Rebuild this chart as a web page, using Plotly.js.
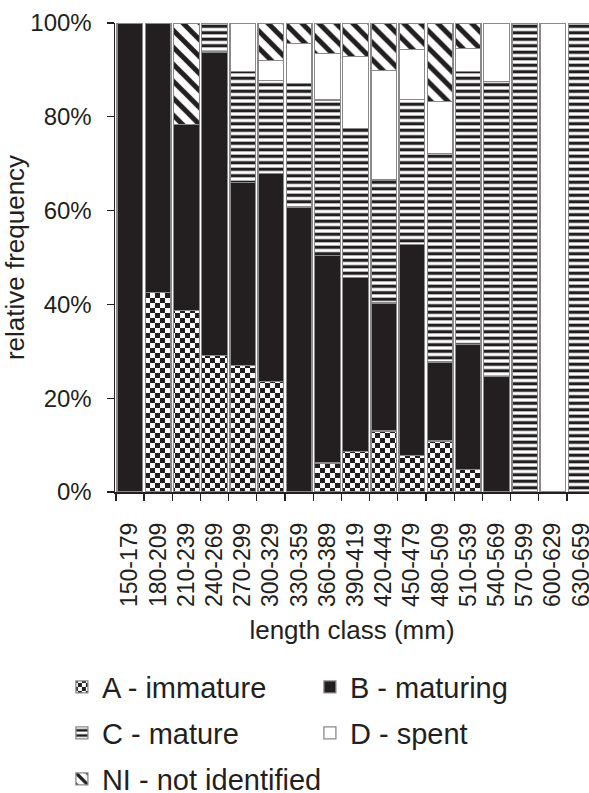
<!DOCTYPE html>
<html>
<head>
<meta charset="utf-8">
<script src="https://cdn.plot.ly/plotly-3.0.1.min.js"></script>
<style>
html,body{margin:0;padding:0;background:#fff;overflow:hidden;}
#chart{width:589px;height:793px;}
</style>
</head>
<body>
<div id="chart"></div>
<script>
var categories = ['150-179','180-209','210-239','240-269','270-299','300-329','330-359','360-389','390-419','420-449','450-479','480-509','510-539','540-569','570-599','600-629','630-659'];
var immature   = [0, 42.6, 38.7, 29.1, 27.0, 23.5, 0, 6.2, 8.7, 13.0, 7.8, 10.9, 4.8, 0, 0, 0, 0];
var maturing   = [100, 57.4, 39.7, 64.7, 39.0, 44.4, 60.8, 44.3, 37.1, 27.3, 45.0, 16.8, 26.7, 24.7, 0, 0, 0];
var mature     = [0, 0, 0, 6.2, 23.6, 19.9, 26.3, 33.1, 31.7, 26.2, 30.9, 44.5, 58.1, 62.9, 100, 0, 100];
var spent      = [0, 0, 0, 0, 10.4, 4.2, 8.5, 9.9, 15.4, 23.3, 10.6, 11.0, 5.0, 12.4, 0, 100, 0];
var notIdent   = [0, 0, 21.6, 0, 0, 8.0, 4.4, 6.5, 7.1, 10.2, 5.7, 16.8, 5.4, 0, 0, 0, 0];
var seriesNames = ['A - immature', 'B - maturing', 'C - mature', 'D - spent', 'NI - not identified'];
var yTicks = [0, 20, 40, 60, 80, 100];
var yTickText = ['0%', '20%', '40%', '60%', '80%', '100%'];

var INK = '#231f20';
var EDGE = '#8a8a8a';
var FONT = 'Liberation Sans, Arial, sans-serif';

function bar(name, vals, marker, legend) {
  marker.line = {color: EDGE, width: 1.3};
  return {type: 'bar', name: name, x: categories, y: vals, marker: marker, legend: legend, hoverinfo: 'skip'};
}

var data = [
  bar(seriesNames[0], immature, {color: INK, pattern: {shape: '.', size: 10, solidity: 0.3, fgcolor: INK, bgcolor: '#ffffff', fillmode: 'replace'}}, 'legend'),
  bar(seriesNames[1], maturing, {color: INK}, 'legend'),
  bar(seriesNames[2], mature, {color: INK, pattern: {shape: '-', size: 6.5, solidity: 0.5, fgcolor: INK, bgcolor: '#ffffff', fillmode: 'replace'}}, 'legend2'),
  bar(seriesNames[3], spent, {color: '#ffffff'}, 'legend2'),
  bar(seriesNames[4], notIdent, {color: INK, pattern: {shape: '\\', size: 12, solidity: 0.42, fgcolor: INK, bgcolor: '#ffffff', fillmode: 'replace'}}, 'legend3')
];

function leg(y, ew) {
  var o = {orientation: 'h', x: -0.112, xanchor: 'left', y: y, yanchor: 'middle',
          font: {family: FONT, size: 29, color: INK}, bgcolor: 'rgba(0,0,0,0)', borderwidth: 0, traceorder: 'normal'};
  if (ew) { o.entrywidth = ew; o.entrywidthmode = 'pixels'; }
  return o;
}

var layout = {
  width: 589, height: 793,
  margin: {l: 115, r: 0, t: 23, b: 301, autoexpand: false},
  paper_bgcolor: '#ffffff', plot_bgcolor: '#ffffff',
  barmode: 'stack', bargap: 0.09,
  font: {family: FONT, color: INK},
  showlegend: true,
  xaxis: {
    type: 'category', range: [-0.53, 16.28],
    showline: true, linecolor: INK, linewidth: 1.5,
    ticks: 'outside', ticklen: 7, tickwidth: 1.3, tickcolor: INK, tickson: 'boundaries',
    tickangle: -90, tickfont: {family: FONT, size: 23, color: INK}, ticklabelstandoff: 20,
    showgrid: false, zeroline: false,
    title: {text: 'length class (mm)', font: {family: FONT, size: 26, color: INK}, standoff: 14}
  },
  yaxis: {
    range: [0, 100], tickvals: yTicks, ticktext: yTickText,
    showline: true, linecolor: INK, linewidth: 1.5,
    ticks: 'outside', ticklen: 7, tickwidth: 1.3, tickcolor: INK,
    tickfont: {family: FONT, size: 24, color: INK}, ticklabelstandoff: 10,
    showgrid: false, zeroline: false,
    title: {text: 'relative frequency', font: {family: FONT, size: 26, color: INK}, standoff: 0}
  },
  legend: leg(-0.416, 203),
  legend2: leg(-0.514, 203),
  legend3: leg(-0.612, 0)
};

var gd = document.getElementById('chart');
Plotly.newPlot(gd, data, layout, {staticPlot: true, displayModeBar: false}).then(function () {
  var NS = 'http://www.w3.org/2000/svg';
  gd.querySelectorAll('pattern').forEach(function (p) {
    var c = p.querySelector('circle');
    if (!c) return;
    var w = parseFloat(p.getAttribute('width')), h = parseFloat(p.getAttribute('height'));
    c.parentNode.removeChild(c);
    [[0, 0], [w / 2, h / 2]].forEach(function (o) {
      var r = document.createElementNS(NS, 'rect');
      r.setAttribute('x', o[0]); r.setAttribute('y', o[1]);
      r.setAttribute('width', w / 2); r.setAttribute('height', h / 2);
      r.setAttribute('fill', INK);
      p.appendChild(r);
    });
  });
});
</script>
</body>
</html>
